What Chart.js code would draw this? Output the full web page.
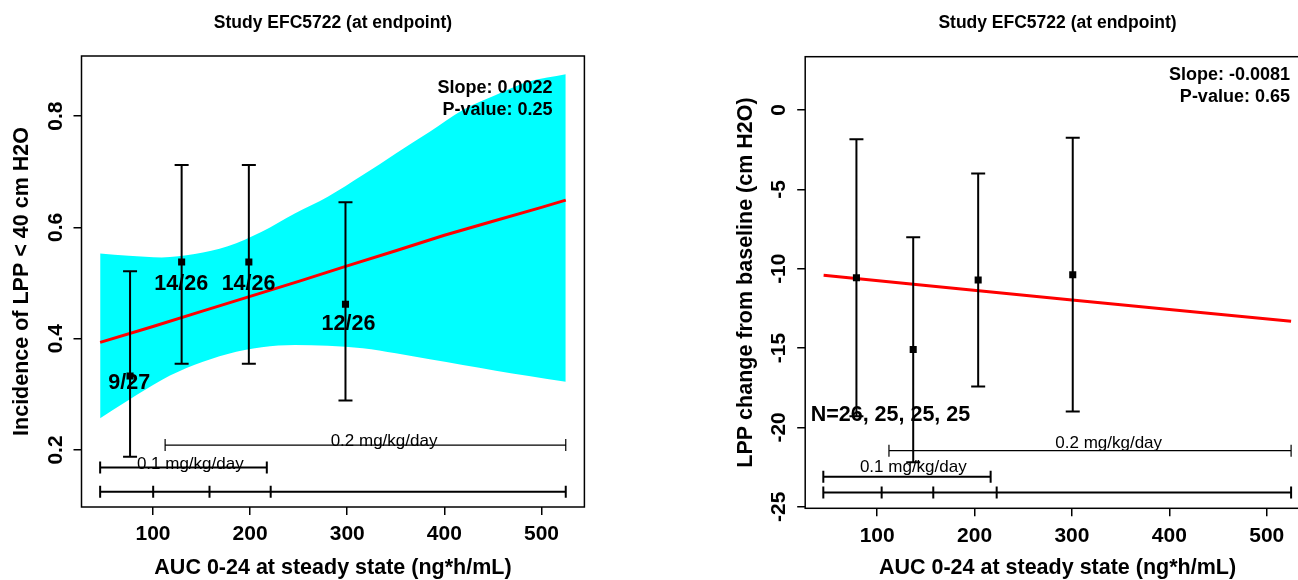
<!DOCTYPE html>
<html>
<head>
<meta charset="utf-8">
<title>EFC5722 exposure-response</title>
<script src="https://cdn.jsdelivr.net/npm/chart.js@4.4.1/dist/chart.umd.min.js"></script>
<style>
  html, body { margin: 0; padding: 0; background: #fff; overflow: hidden; }
  body { width: 1298px; height: 580px; position: relative; }
  canvas { position: absolute; top: 0; }
  #cLeft { left: 0; }
  #cRight { left: 650px; }
</style>
</head>
<body>
<canvas id="cLeft" width="650" height="580"></canvas>
<canvas id="cRight" width="680" height="580"></canvas>
<script>
const FONT = "'Liberation Sans', Arial, Helvetica, sans-serif";
const TITLE = 'Study EFC5722 (at endpoint)';
const X_TITLE = 'AUC 0-24 at steady state (ng*h/mL)';
const DOSE_LOW = '0.1 mg/kg/day';
const DOSE_HIGH = '0.2 mg/kg/day';
const xTicks = [100, 200, 300, 400, 500];

// incidence of LPP < 40 cm H2O by AUC quartile
const incX = [76.4, 129.5, 198.7, 298.2];
const incY = [0.333, 0.538, 0.538, 0.462];
const incLo = [0.188, 0.355, 0.355, 0.289];
const incHi = [0.521, 0.712, 0.712, 0.645];
const incCounts = ['9/27', '14/26', '14/26', '12/26'];
const incCountX = [75.6, 129.1, 198.4, 301.3];
const incCountY = [0.320, 0.498, 0.498, 0.426];
const incFitX = [45.6, 100, 150, 200, 250, 300, 350, 400, 450, 500, 525];
const incFitY = [0.3935, 0.422, 0.449, 0.476, 0.503, 0.531, 0.558, 0.586, 0.611, 0.636, 0.649];
const incBandX = [45.6, 75, 109, 143, 177, 212, 246, 280, 316, 350, 385, 419, 453, 487, 525];
const incBandHi = [0.553, 0.549, 0.546, 0.552, 0.566, 0.592, 0.625, 0.655, 0.694, 0.733, 0.772, 0.811, 0.838, 0.862, 0.875];
const incBandLo = [0.257, 0.290, 0.326, 0.353, 0.3725, 0.3845, 0.3886, 0.3874, 0.3827, 0.3737, 0.3629, 0.3527, 0.3425, 0.333, 0.3227];
const incYTicks = [0.2, 0.4, 0.6, 0.8];
const incCuts = [45.6, 100.2, 158.2, 221.2, 525];
const incLowDose = [45.6, 217.2];
const incHighDose = [112.5, 525];

// LPP change from baseline by AUC quartile
const lppX = [78.7, 137.0, 203.7, 300.8];
const lppY = [-10.57, -15.09, -10.71, -10.38];
const lppLo = [-19.3, -22.2, -17.43, -19.0];
const lppHi = [-1.84, -8.02, -4.0, -1.74];
const lppFitX = [45, 150, 300, 400, 525];
const lppFitY = [-10.42, -11.06, -11.97, -12.57, -13.31];
const lppYTicks = [0, -5, -10, -15, -20, -25];
const lppCuts = [44.7, 104.6, 157.6, 222.7, 525];
const lppLowDose = [44.7, 216.5];
const lppHighDose = [112.1, 525];

Chart.defaults.font.family = FONT;
Chart.defaults.color = '#000';

const zip = (xs, ys) => xs.map((v, i) => ({ x: v, y: ys[i] }));

function rule(ctx, xs, py, lw) {
	ctx.lineWidth = lw;
	ctx.beginPath();
	ctx.moveTo(xs[0], py);
	ctx.lineTo(xs[xs.length - 1], py);
	xs.forEach(px => {
		ctx.moveTo(px, py - 6);
		ctx.lineTo(px, py + 6);
	});
	ctx.stroke();
}

function decor(p) {
	return {
		id: 'decor',
		afterDatasetsDraw(chart) {
			const { ctx, scales: { x, y } } = chart;
			const X = v => x.getPixelForValue(v);
			const Y = v => y.getPixelForValue(v);
			ctx.save();
			ctx.strokeStyle = '#000';
			ctx.fillStyle = '#000';

			// dose ranges and quartile cut points along the bottom
			rule(ctx, p.cuts.map(X), Y(p.cutsAt), 2);
			rule(ctx, p.lowDose.map(X), Y(p.lowDoseAt), 2);
			rule(ctx, p.highDose.map(X), Y(p.highDoseAt), 1.2);
			ctx.font = `17px ${FONT}`;
			ctx.textAlign = 'center';
			ctx.textBaseline = 'alphabetic';
			ctx.fillText(DOSE_LOW, X(p.lowText[0]), Y(p.lowText[1]));
			ctx.fillText(DOSE_HIGH, X(p.highText[0]), Y(p.highText[1]));

			// 95% CI bars
			ctx.lineWidth = 2;
			ctx.beginPath();
			p.ptX.forEach((v, i) => {
				const px = X(v), lo = Y(p.lo[i]), hi = Y(p.hi[i]);
				ctx.moveTo(px, lo); ctx.lineTo(px, hi);
				ctx.moveTo(px - 7, lo); ctx.lineTo(px + 7, lo);
				ctx.moveTo(px - 7, hi); ctx.lineTo(px + 7, hi);
			});
			ctx.stroke();

			ctx.font = `bold 21.5px ${FONT}`;
			ctx.textBaseline = 'middle';
			if (p.counts) {
				p.counts.forEach((t, i) => ctx.fillText(t, X(p.countX[i]), Y(p.countY[i])));
			}
			if (p.nText) {
				ctx.textAlign = 'left';
				ctx.fillText(p.nText, X(p.nAt[0]), Y(p.nAt[1]));
			}
			ctx.restore();
		},
		afterDraw(chart) {
			const { ctx, chartArea: a, scales: { x, y } } = chart;
			ctx.save();
			ctx.strokeStyle = '#000';
			ctx.fillStyle = '#000';
			ctx.lineWidth = 1.5;
			ctx.strokeRect(a.left, a.top, a.right - a.left, a.bottom - a.top);

			ctx.textAlign = 'center';
			ctx.textBaseline = 'middle';
			ctx.font = `bold 17.5px ${FONT}`;
			ctx.fillText(TITLE, (a.left + a.right) / 2, 23);

			// y labels run parallel to the axis
			ctx.font = `bold 21px ${FONT}`;
			p.yTicks.forEach(v => {
				ctx.save();
				ctx.translate(a.left - 25.5, y.getPixelForValue(v));
				ctx.rotate(-Math.PI / 2);
				ctx.fillText(String(v), 0, 0);
				ctx.restore();
			});

			ctx.font = `bold 18px ${FONT}`;
			ctx.textAlign = 'right';
			const sx = x.getPixelForValue(p.statAt[0]);
			const sy = y.getPixelForValue(p.statAt[1]);
			p.stats.forEach((t, i) => ctx.fillText(t, sx, sy + i * 22));
			ctx.restore();
		}
	};
}

function buildPanel(id, p) {
	const datasets = [];
	if (p.bandX) {
		const band = { borderColor: 'rgba(0,0,0,0)', borderWidth: 0, pointRadius: 0, cubicInterpolationMode: 'monotone' };
		datasets.push(
			{ ...band, data: zip(p.bandX, p.bandHi), fill: '+1', backgroundColor: '#00ffff', order: 4 },
			{ ...band, data: zip(p.bandX, p.bandLo), fill: false, order: 5 }
		);
	}
	datasets.push(
		{ data: zip(p.fitX, p.fitY), borderColor: '#ff0000', borderWidth: 3, pointRadius: 0, fill: false, tension: 0, order: 2 },
		{ data: zip(p.ptX, p.ptY), showLine: false, pointStyle: 'rect', pointRadius: 5, pointBackgroundColor: '#000', pointBorderWidth: 0, order: 1 }
	);

	const axisGrid = { drawOnChartArea: false, drawTicks: true, tickLength: 8, color: '#000', lineWidth: 1.5 };
	const titleFont = { size: 21.5, weight: 'bold', lineHeight: 1 };

	return new Chart(document.getElementById(id), {
		type: 'line',
		data: { datasets },
		options: {
			responsive: false,
			animation: false,
			events: [],
			layout: { padding: p.pad },
			plugins: { legend: { display: false }, tooltip: { enabled: false } },
			scales: {
				x: {
					type: 'linear',
					min: p.xMin,
					max: p.xMax,
					afterBuildTicks: s => { s.ticks = xTicks.map(v => ({ value: v })); },
					afterFit: s => { s.height = p.xAxisH; },
					grid: axisGrid,
					border: { display: false },
					ticks: { font: { size: 21, weight: 'bold' }, padding: 7, maxRotation: 0, autoSkip: false },
					title: { display: true, text: X_TITLE, font: titleFont, padding: 0 }
				},
				y: {
					type: 'linear',
					min: p.yMin,
					max: p.yMax,
					afterBuildTicks: s => { s.ticks = p.yTicks.map(v => ({ value: v })); },
					afterFit: s => { s.width = p.yAxisW; },
					grid: axisGrid,
					border: { display: false },
					ticks: { display: false },
					title: { display: true, text: p.yTitle, font: titleFont, padding: 0 }
				}
			}
		},
		plugins: [decor(p)]
	});
}

buildPanel('cLeft', {
	yTitle: 'Incidence of LPP < 40 cm H2O',
	xMin: 26.4, xMax: 544.2, yMin: 0.0976, yMax: 0.908,
	pad: { left: 11.25, right: 65.6, top: 56, bottom: 1.25 },
	yAxisW: 70.25, xAxisH: 71.75,
	yTicks: incYTicks,
	ptX: incX, ptY: incY, lo: incLo, hi: incHi,
	fitX: incFitX, fitY: incFitY,
	bandX: incBandX, bandHi: incBandHi, bandLo: incBandLo,
	counts: incCounts, countX: incCountX, countY: incCountY,
	cuts: incCuts, cutsAt: 0.125,
	lowDose: incLowDose, lowDoseAt: 0.1688,
	highDose: incHighDose, highDoseAt: 0.2088,
	lowText: [138.4, 0.1652], highText: [337.9, 0.2076],
	stats: ['Slope: 0.0022', 'P-value: 0.25'], statAt: [511.3, 0.8498]
});

buildPanel('cRight', {
	yTitle: 'LPP change from baseline (cm H2O)',
	xMin: 26.1, xMax: 544.2, yMin: -25.1, yMax: 3.36,
	pad: { left: 85.55, right: 20.2, top: 56.7, bottom: 1.25 },
	yAxisW: 69.65, xAxisH: 70.45,
	yTicks: lppYTicks,
	ptX: lppX, ptY: lppY, lo: lppLo, hi: lppHi,
	fitX: lppFitX, fitY: lppFitY,
	nText: 'N=26, 25, 25, 25', nAt: [31.7, -19.22],
	cuts: lppCuts, cutsAt: -24.11,
	lowDose: lppLowDose, lowDoseAt: -23.11,
	highDose: lppHighDose, highDoseAt: -21.47,
	lowText: [137.1, -22.79], highText: [337.7, -21.32],
	stats: ['Slope: -0.0081', 'P-value: 0.65'], statAt: [523.8, 2.2]
});
</script>
</body>
</html>
